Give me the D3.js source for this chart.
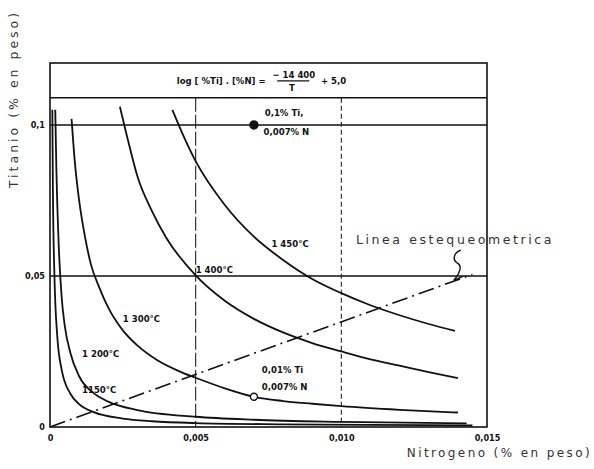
<!DOCTYPE html>
<html>
<head>
<meta charset="utf-8">
<script src="https://cdn.jsdelivr.net/npm/d3@7"></script>
<style>
  body { margin: 0; background: #fff; }
  svg text { fill: #111; }
  .tick text { font-family: "DejaVu Sans Condensed", sans-serif; font-size: 9px; font-weight: bold; }
  .lbl { font-family: "DejaVu Sans Condensed", sans-serif; font-size: 9.5px; font-weight: bold; }
  .title { font-family: "DejaVu Sans", sans-serif; font-size: 12px; letter-spacing: 2.4px; fill: #333; }
</style>
</head>
<body>
<svg id="chart" width="594" height="469"></svg>
<script>
"use strict";

// Data: [N %, Ti %]
var curve1150 = [[0.00008,0.105],[0.0001,0.078],[0.00015,0.051],[0.00025,0.03],[0.0004,0.019],
    [0.0007,0.011],[0.001,0.0076],[0.0015,0.0049],[0.0025,0.0028],[0.0035,0.0019],[0.005,0.0013],
    [0.008,0.0009],[0.011,0.0007],[0.0145,0.0005]];
var curve1200 = [[0.00018,0.105],[0.00022,0.085],[0.0003,0.06],[0.0004,0.043],[0.0005,0.034],
    [0.0007,0.0245],[0.001,0.0168],[0.0015,0.0112],[0.002,0.0084],[0.003,0.0056],[0.005,0.0034],
    [0.007,0.0024],[0.010,0.0017],[0.0143,0.0012]];
var curve1300 = [[0.00074,0.102],[0.00085,0.088],[0.001,0.075],[0.0012,0.063],[0.0014,0.054],
    [0.0017,0.046],[0.002,0.0395],[0.0025,0.032],[0.003,0.027],[0.0037,0.022],[0.0044,0.0186],
    [0.005,0.0163],[0.006,0.0128],[0.007,0.0100],[0.008,0.0086],[0.009,0.0077],[0.010,0.0069],
    [0.012,0.0057],[0.014,0.0048]];
var curve1400 = [[0.0024,0.106],[0.0027,0.094],[0.003,0.083],[0.0035,0.0715],[0.004,0.0625],
    [0.005,0.0502],[0.006,0.0418],[0.007,0.0358],[0.008,0.0313],[0.009,0.0278],[0.010,0.025],
    [0.011,0.0224],[0.012,0.0203],[0.013,0.0182],[0.014,0.0162]];
var curve1450 = [[0.0042,0.105],[0.0046,0.096],[0.005,0.088],[0.006,0.0735],[0.007,0.063],
    [0.008,0.0553],[0.009,0.049],[0.010,0.0443],[0.011,0.0403],[0.012,0.037],[0.013,0.0341],
    [0.0139,0.0318]];
var stoichLine = [[0,0],[0.0145,0.0505]];
var markedPoints = [[0.007,0.1,"filled"],[0.007,0.0100,"open"]];

var yTicks = [0, 0.05, 0.1];
var yTickLabels = ["0", "0,05", "0,1"];
var xTicks = [0, 0.005, 0.010, 0.015];
var xTickLabels = ["0", "0,005", "0,010", "0,015"];

// Curve labels, placed in data units [N, Ti, text]
var curveLabels = [[0.0076,0.0595,"1 450°C"],[0.0050,0.051,"1 400°C"],[0.0025,0.0348,"1 300°C"],
    [0.0011,0.0232,"1 200°C"],[0.0011,0.0113,"1150°C"]];

var svg = d3.select("#chart");

var x = d3.scaleLinear().domain([0, 0.015]).range([50, 487]),
    y = d3.scaleLinear().domain([0, 0.1205]).range([427, 63]);

var line = d3.line()
    .x(function (d) { return x(d[0]); })
    .y(function (d) { return y(d[1]); });

// frame and header box
svg.append("rect")
    .attr("x", x(0)).attr("y", y(0.1205))
    .attr("width", x(0.015) - x(0)).attr("height", y(0) - y(0.1205))
    .attr("fill", "none").attr("stroke", "#111").attr("stroke-width", 1.6);
svg.append("line")
    .attr("x1", x(0)).attr("x2", x(0.015))
    .attr("y1", y(0.109)).attr("y2", y(0.109))
    .attr("stroke", "#111").attr("stroke-width", 1.6);

// reference lines at 0.1 and 0.05 Ti
svg.selectAll("line.hz").data([0.1, 0.05]).enter().append("line")
    .attr("class", "hz")
    .attr("x1", x(0)).attr("x2", x(0.015))
    .attr("y1", function (d) { return y(d); }).attr("y2", function (d) { return y(d); })
    .attr("stroke", "#111").attr("stroke-width", 1.6);

// dashed verticals at 0.005 and 0.010 N
svg.selectAll("line.vt").data([0.005, 0.010]).enter().append("line")
    .attr("class", "vt")
    .attr("x1", function (d) { return x(d); }).attr("x2", function (d) { return x(d); })
    .attr("y1", y(0.109)).attr("y2", y(0))
    .attr("stroke", "#222").attr("stroke-width", 1.1)
    .attr("stroke-dasharray", function (d) { return d === 0.005 ? "14,3" : "5,3"; });

// stoichiometric line
svg.append("path")
    .attr("d", line(stoichLine))
    .attr("fill", "none").attr("stroke", "#111").attr("stroke-width", 1.6)
    .attr("stroke-dasharray", "16,5,2,5");

// solubility curves
var curves = [curve1150, curve1200, curve1300, curve1400, curve1450];
var curveLine = d3.line()
    .x(function (d) { return x(d[0]); })
    .y(function (d) { return y(d[1]); })
    .curve(d3.curveMonotoneX);
svg.selectAll("path.curve").data(curves).enter().append("path")
    .attr("class", "curve")
    .attr("d", curveLine)
    .attr("fill", "none").attr("stroke", "#111").attr("stroke-width", 1.8);

svg.selectAll("circle.pt").data(markedPoints).enter().append("circle")
    .attr("class", "pt")
    .attr("cx", function (d) { return x(d[0]); })
    .attr("cy", function (d) { return y(d[1]); })
    .attr("r", function (d) { return d[2] === "filled" ? 4 : 3.5; })
    .attr("fill", function (d) { return d[2] === "filled" ? "#111" : "#fff"; })
    .attr("stroke", "#111").attr("stroke-width", 1.4);

// axes (no tick marks, just the labels)
svg.append("g")
    .attr("transform", "translate(" + x(0) + ",0)")
    .call(d3.axisLeft(y).tickValues(yTicks).tickSize(0).tickPadding(5)
        .tickFormat(function (d, i) { return yTickLabels[i]; }))
    .call(function (g) { g.select(".domain").remove(); });
svg.append("g")
    .attr("transform", "translate(0," + y(0) + ")")
    .call(d3.axisBottom(x).tickValues(xTicks).tickSize(0).tickPadding(8)
        .tickFormat(function (d, i) { return xTickLabels[i]; }))
    .call(function (g) { g.select(".domain").remove(); });

svg.selectAll("text.clbl").data(curveLabels).enter().append("text")
    .attr("class", "lbl clbl")
    .attr("x", function (d) { return x(d[0]); })
    .attr("y", function (d) { return y(d[1]); })
    .text(function (d) { return d[2]; });

// point annotations
svg.append("text").attr("class", "lbl").attr("x", x(0.00737)).attr("y", y(0.1029)).text("0,1% Ti,");
svg.append("text").attr("class", "lbl").attr("x", x(0.00733)).attr("y", y(0.0968)).text("0,007% N");
svg.append("text").attr("class", "lbl").attr("x", x(0.00727)).attr("y", y(0.0179)).text("0,01% Ti");
svg.append("text").attr("class", "lbl").attr("x", x(0.00727)).attr("y", y(0.0122)).text("0,007% N");

// equation in the header box
var eqY = (y(0.1205) + y(0.109)) / 2;
svg.append("text").attr("class", "lbl")
    .attr("x", x(0.0074)).attr("y", eqY + 3.5).attr("text-anchor", "end")
    .text("log [ %Ti] . [%N]  =");
svg.append("text").attr("class", "lbl")
    .attr("x", x(0.00837)).attr("y", eqY - 2).attr("text-anchor", "middle")
    .text("− 14 400");
svg.append("line")
    .attr("x1", x(0.0078)).attr("x2", x(0.0089))
    .attr("y1", eqY + 0.5).attr("y2", eqY + 0.5)
    .attr("stroke", "#111").attr("stroke-width", 1.3);
svg.append("text").attr("class", "lbl")
    .attr("x", x(0.0083)).attr("y", eqY + 10.5).attr("text-anchor", "middle")
    .text("T");
svg.append("text").attr("class", "lbl")
    .attr("x", x(0.0093)).attr("y", eqY + 3.5)
    .text("+ 5,0");

// stoichiometric line label and its squiggle pointer
svg.append("text")
    .attr("class", "title")
    .attr("x", x(0.0105)).attr("y", y(0.0605))
    .style("font-size", "12.5px")
    .style("letter-spacing", "2.6px")
    .text("Linea estequeometrica");
var sq = [x(0.0141), y(0.0585)];
svg.append("path")
    .attr("d", "M" + sq[0] + "," + sq[1] + " c-7,2 -9,10 -3,13 c4,2 3,9 -4,17 l9,-4")
    .attr("fill", "none").attr("stroke", "#111").attr("stroke-width", 1.4);

// axis titles
svg.append("text")
    .attr("class", "title")
    .attr("transform", "translate(18,99) rotate(-90)")
    .attr("text-anchor", "middle")
    .style("font-size", "12.5px")
    .style("letter-spacing", "3px")
    .text("Titanio (% en peso)");
svg.append("text")
    .attr("class", "title")
    .attr("x", 592).attr("y", 457)
    .attr("text-anchor", "end")
    .text("Nitrogeno (% en peso)");
</script>
</body>
</html>
